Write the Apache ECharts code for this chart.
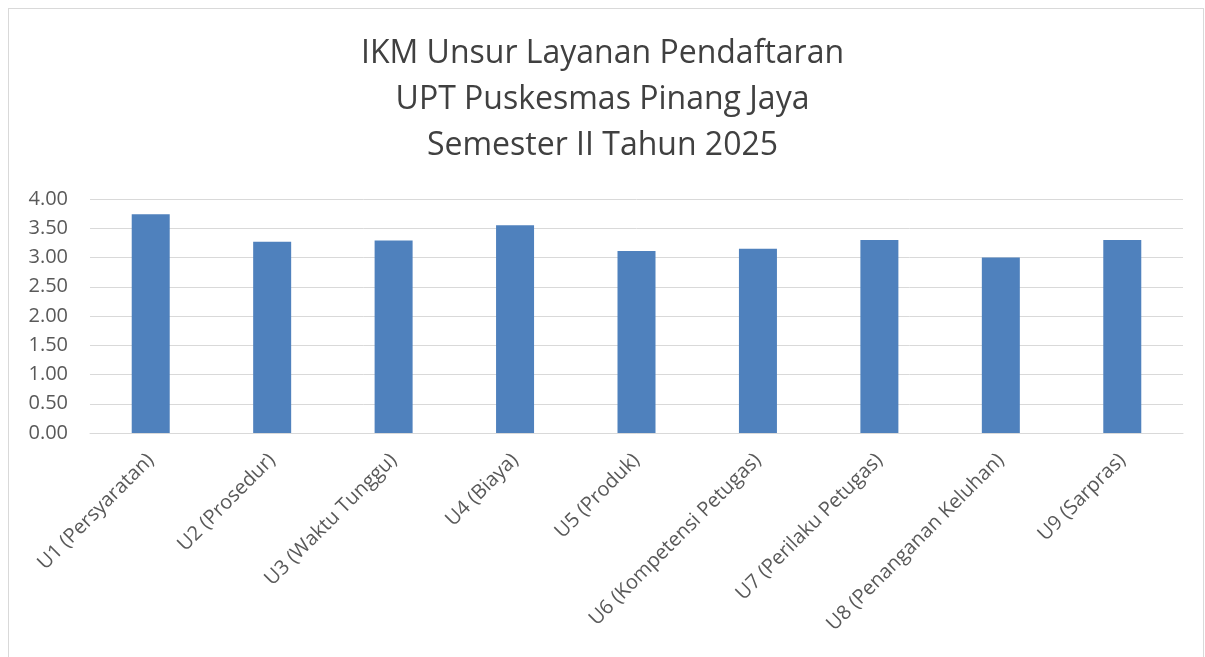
<!DOCTYPE html>
<html>
<head>
<meta charset="utf-8">
<script src="https://cdn.jsdelivr.net/npm/echarts@6/dist/echarts.min.js"></script>
<style>
  html, body { margin: 0; padding: 0; background: #fff; }
  #frame { position: absolute; left: 8px; top: 8px; width: 1196px; height: 660px; border: 1px solid #d9d9d9; box-sizing: border-box; }
  #chart { position: absolute; left: 0; top: 0; width: 1205px; height: 657px; }
</style>
</head>
<body>
<div id="frame"></div>
<div id="chart"></div>
<script>
// data
var categories = ['U1 (Persyaratan)', 'U2 (Prosedur)', 'U3 (Waktu Tunggu)', 'U4 (Biaya)', 'U5 (Produk)',
    'U6 (Kompetensi Petugas)', 'U7 (Perilaku Petugas)', 'U8 (Penanganan Keluhan)', 'U9 (Sarpras)'];
var nilai = [3.74, 3.27, 3.29, 3.55, 3.11, 3.15, 3.30, 3.00, 3.30];
var titleLines = ['IKM Unsur Layanan Pendaftaran', 'UPT Puskesmas Pinang Jaya', 'Semester II Tahun 2025'];

var chart = echarts.init(document.getElementById('chart'));

var option = {
    animation: false,
    title: {
        text: titleLines.join('\n'),
        left: 'center',
        top: 26,
        textStyle: {
            fontFamily: 'Open Sans',
            fontSize: 32,
            fontWeight: 'normal',
            color: '#404040',
            lineHeight: 46
        }
    },
    grid: {
        left: 90,
        right: 22,
        top: 199,
        bottom: 224
    },
    xAxis: {
        type: 'category',
        data: categories,
        axisLine: { lineStyle: { color: '#d9d9d9', width: 1 } },
        axisTick: { show: false },
        axisLabel: {
            rotate: 45,
            interval: 0,
            margin: 24,
            fontFamily: 'Open Sans',
            fontSize: 20,
            color: '#595959'
        }
    },
    yAxis: {
        type: 'value',
        min: 0,
        max: 4,
        interval: 0.5,
        axisLine: { show: false },
        axisTick: { show: false },
        splitLine: { lineStyle: { color: '#d9d9d9', width: 1 } },
        axisLabel: {
            margin: 22,
            fontFamily: 'Open Sans',
            fontSize: 20,
            color: '#595959',
            formatter: function (v) { return v.toFixed(2); }
        }
    },
    series: [
        {
            name: 'IKM',
            type: 'bar',
            data: nilai,
            barWidth: 38,
            itemStyle: { color: '#4f81bd' }
        }
    ]
};

chart.setOption(option);
</script>
</body>
</html>
